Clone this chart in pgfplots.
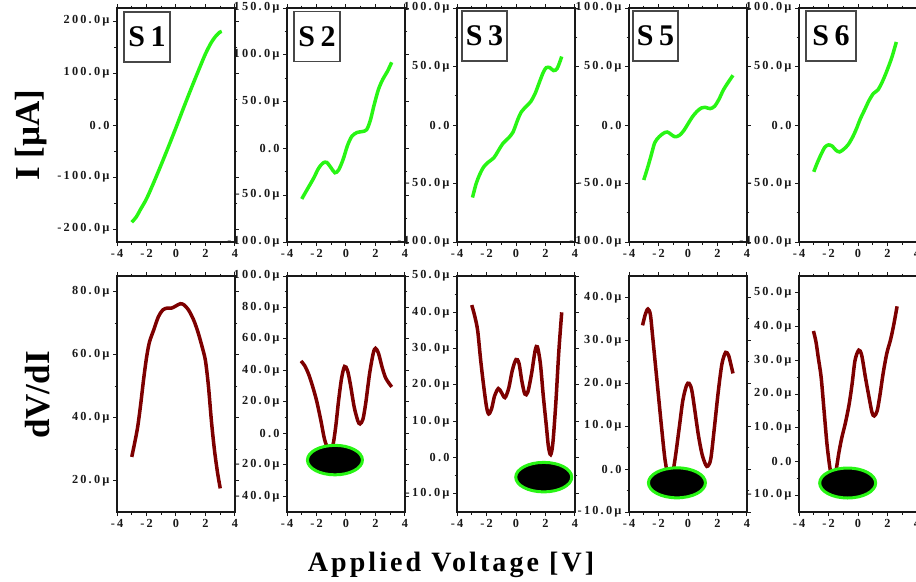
\documentclass[border=0pt]{standalone}
\usepackage{fontspec}
\setmainfont{Liberation Serif}
\newfontfamily\tickfont[LetterSpace=18]{Liberation Serif}
\newfontfamily\labfont[LetterSpace=11]{Liberation Serif}
\usepackage{pgfplots}
\pgfplotsset{compat=1.18}
\definecolor{cgreen}{RGB}{40,245,20}
\definecolor{cred}{RGB}{125,0,0}
\definecolor{axc}{RGB}{25,25,25}
\tikzset{blob/.style={draw=cgreen, line width=3bp, fill=black}}
\pgfplotsset{
 panel/.style={
  scale only axis, width=118bp, xmin=-4, xmax=4,
  xtick={-4,-2,0,2,4}, xticklabels={-4,-2,0,2,4},
  minor x tick num=1, minor y tick num=1,
  tick align=outside,
  axis line style={line width=1.2bp, axc},
  major tick length=4bp, minor tick length=2.5bp,
  tick style={axc, line width=1bp},
  tick label style={font=\tickfont\bfseries\fontsize{12.3bp}{13bp}\selectfont, text=axc},
  anchor=south west,
 },
 toprow/.style={panel, height=234bp},
 botrow/.style={panel, height=236bp},
 gline/.style={cgreen, line width=3.5bp, smooth, no marks},
 rline/.style={cred, line width=3.5bp, smooth, no marks},
}
\begin{document}
\begin{tikzpicture}
\path[use as bounding box] (0,0) rectangle (916bp,-582bp);
% ---------------- top row ----------------
\begin{axis}[toprow, at={(117bp,-242bp)}, ymin=-225, ymax=225,
  ytick={-200,-100,0,100,200}, yticklabels={-200.0µ,-100.0µ,0.0,100.0µ,200.0µ}]
\addplot[gline] coordinates {(-3.0,-187) (-2.7,-177) (-2.4,-162) (-2.0,-142) (-1.5,-110) (-1.0,-76) (-0.5,-41) (0.0,-5) (0.5,32) (1.0,68) (1.5,103) (2.0,137) (2.4,159) (2.7,171) (2.95,178) (3.1,180)};
\end{axis}
\begin{axis}[toprow, at={(287bp,-242bp)}, ymin=-100, ymax=150,
  ytick={-100,-50,0,50,100,150}, yticklabels={-100.0µ,-50.0µ,0.0,50.0µ,100.0µ,150.0µ}]
\addplot[gline] coordinates {(-3.0,-54) (-2.6,-43) (-2.2,-32) (-1.85,-21) (-1.55,-15.5) (-1.3,-15) (-1.0,-21) (-0.75,-26) (-0.5,-23) (-0.2,-12) (0.1,3) (0.4,13) (0.75,17) (1.1,18) (1.4,20) (1.65,30) (1.9,46) (2.2,63) (2.5,74) (2.8,82) (3.1,92)};
\end{axis}
\begin{axis}[toprow, at={(457bp,-242bp)}, ymin=-100, ymax=100,
  ytick={-100,-50,0,50,100}, yticklabels={-100.0µ,-50.0µ,0.0,50.0µ,100.0µ}]
\addplot[gline] coordinates {(-2.95,-62) (-2.7,-50) (-2.45,-42) (-2.2,-36) (-1.9,-32) (-1.5,-28) (-1.2,-22) (-0.9,-16) (-0.5,-11) (-0.2,-6) (0.1,4) (0.35,11) (0.7,16) (1.0,20) (1.3,27) (1.6,37) (1.85,45) (2.05,49) (2.3,49) (2.55,46.5) (2.8,48.5) (3.1,58.5)};
\end{axis}
\begin{axis}[toprow, at={(629bp,-242bp)}, ymin=-100, ymax=100,
  ytick={-100,-50,0,50,100}, yticklabels={-100.0µ,-50.0µ,0.0,50.0µ,100.0µ}]
\addplot[gline] coordinates {(-3.0,-47) (-2.75,-37) (-2.5,-26) (-2.25,-15) (-1.95,-10) (-1.65,-7) (-1.4,-6) (-1.15,-8) (-0.9,-10) (-0.6,-9) (-0.3,-5) (0.0,1) (0.3,7) (0.6,11.5) (0.9,14.5) (1.2,15) (1.5,14) (1.8,16) (2.1,22) (2.4,30) (2.7,36) (3.05,42.5)};
\end{axis}
\begin{axis}[toprow, at={(799bp,-242bp)}, ymin=-100, ymax=100,
  ytick={-100,-50,0,50,100}, yticklabels={-100.0µ,-50.0µ,0.0,50.0µ,100.0µ}]
\addplot[gline] coordinates {(-3.0,-40) (-2.75,-32) (-2.5,-25) (-2.25,-19) (-2.0,-17) (-1.75,-18) (-1.5,-21.5) (-1.25,-23) (-0.95,-20.5) (-0.65,-16.5) (-0.35,-10) (-0.1,-3) (0.15,5) (0.45,13) (0.75,21) (1.05,27) (1.35,30) (1.65,37) (1.95,46) (2.3,58) (2.6,71)};
\end{axis}
% ---------------- bottom row ----------------
\begin{axis}[botrow, at={(117bp,-512bp)}, ymin=10, ymax=85,
  ytick={20,40,60,80}, yticklabels={20.0µ,40.0µ,60.0µ,80.0µ}]
\addplot[rline] coordinates {(-3.0,27.5) (-2.8,32) (-2.6,37) (-2.4,44) (-2.2,52) (-2.0,59) (-1.8,64) (-1.5,68) (-1.2,72) (-0.9,74.2) (-0.6,74.8) (-0.3,74.8) (0.0,75.5) (0.3,76.2) (0.55,75.8) (0.85,74.2) (1.2,71) (1.5,67) (1.8,62) (2.0,58) (2.2,50) (2.4,39) (2.6,30) (2.8,23) (3.0,17.5)};
\end{axis}
\begin{axis}[botrow, at={(287bp,-512bp)}, ymin=-50, ymax=100,
  ytick={-40,-20,0,20,40,60,80,100}, yticklabels={-40.0µ,-20.0µ,0.0,20.0µ,40.0µ,60.0µ,80.0µ,100.0µ}]
\addplot[rline] coordinates {(-3.05,46) (-2.8,43) (-2.55,38) (-2.3,31) (-2.0,21) (-1.7,8) (-1.45,-4) (-1.15,-11) (-0.9,-8) (-0.7,4) (-0.5,21) (-0.3,35) (-0.1,42.5) (0.1,40) (0.3,31) (0.55,17) (0.8,8) (0.95,6) (1.15,9) (1.35,20) (1.6,38) (1.85,51) (2.0,54) (2.2,51) (2.45,42) (2.7,35) (3.1,29.5)};
\draw[blob] (axis cs:-0.75,-17) ellipse [x radius=27.5bp, y radius=14.75bp];
\end{axis}
\begin{axis}[botrow, at={(457bp,-512bp)}, ymin=-15, ymax=50,
  ytick={-10,0,10,20,30,40,50}, yticklabels={-10.0µ,0.0,10.0µ,20.0µ,30.0µ,40.0µ,50.0µ}]
\addplot[rline] coordinates {(-3.0,42) (-2.8,39) (-2.6,35) (-2.4,27) (-2.2,20) (-2.0,14) (-1.85,12) (-1.65,13.5) (-1.45,17) (-1.2,19) (-1.0,18) (-0.75,16.5) (-0.5,19) (-0.25,24) (0.0,27) (0.2,26) (0.4,21) (0.6,17.5) (0.8,18) (1.05,23) (1.3,29.5) (1.45,30.5) (1.65,26) (1.85,17) (2.05,9) (2.2,3) (2.35,0.8) (2.5,4) (2.7,15) (2.9,29) (3.1,40)};
\draw[blob] (axis cs:1.88,-5.4) ellipse [x radius=28bp, y radius=14.75bp];
\end{axis}
\begin{axis}[botrow, at={(629bp,-512bp)}, ymin=-10, ymax=45,
  ytick={-10,0,10,20,30,40}, yticklabels={-10.0µ,0.0,10.0µ,20.0µ,30.0µ,40.0µ}]
\addplot[rline] coordinates {(-3.08,33.5) (-2.9,36) (-2.72,37.3) (-2.55,36) (-2.4,31) (-2.2,24) (-2.0,17) (-1.8,10) (-1.55,2) (-1.3,-2) (-1.05,-1) (-0.85,3) (-0.6,9.5) (-0.35,16) (-0.1,19.5) (0.07,20) (0.25,18.5) (0.45,14) (0.7,8) (0.95,3.5) (1.2,1) (1.35,0.7) (1.55,2.5) (1.8,10) (2.05,18) (2.3,24.5) (2.55,27.2) (2.75,26.5) (2.9,24.5) (3.05,22.3)};
\draw[blob] (axis cs:-0.75,-3.2) ellipse [x radius=28.5bp, y radius=15bp];
\end{axis}
\begin{axis}[botrow, at={(799bp,-512bp)}, ymin=-15, ymax=55,
  ytick={-10,0,10,20,30,40,50}, yticklabels={-10.0µ,0.0,10.0µ,20.0µ,30.0µ,40.0µ,50.0µ}]
\addplot[rline] coordinates {(-3.02,38.7) (-2.85,35.5) (-2.7,31) (-2.5,25) (-2.3,15) (-2.1,5) (-1.9,-2) (-1.7,-6) (-1.5,-3) (-1.3,2.5) (-1.1,7) (-0.85,11.5) (-0.6,17) (-0.4,23) (-0.2,30) (0.05,33) (0.25,31.5) (0.5,25) (0.75,19) (0.95,14.5) (1.1,13.5) (1.3,15) (1.5,20) (1.7,26) (1.95,32) (2.2,36) (2.4,40) (2.65,46)};
\draw[blob] (axis cs:-0.7,-6.4) ellipse [x radius=28bp, y radius=15bp];
\end{axis}
% ---------------- labels ----------------
\begin{scope}[every node/.style={draw=axc!80, line width=1.2bp, fill=white, minimum height=50bp, inner sep=0pt, font=\tickfont\bfseries\fontsize{30bp}{32bp}\selectfont}]
\node[minimum width=46bp] at (147bp,-37bp) {S1};
\node[minimum width=46bp] at (317bp,-36.5bp) {S2};
\node[minimum width=45bp] at (484.5bp,-36bp) {S3};
\node[minimum width=45bp] at (655.5bp,-36bp) {S5};
\node[minimum width=50bp] at (831bp,-36bp) {S6};
\end{scope}
\node[rotate=90, font=\bfseries\fontsize{35bp}{40bp}\selectfont] at (31bp,-135bp) {I [µA]};
\node[rotate=90, font=\bfseries\fontsize{35bp}{40bp}\selectfont] at (38bp,-395bp) {dV/dI};
\node[font=\labfont\bfseries\fontsize{28bp}{32bp}\selectfont] at (451bp,-565bp) {Applied Voltage [V]};
\end{tikzpicture}
\end{document}
